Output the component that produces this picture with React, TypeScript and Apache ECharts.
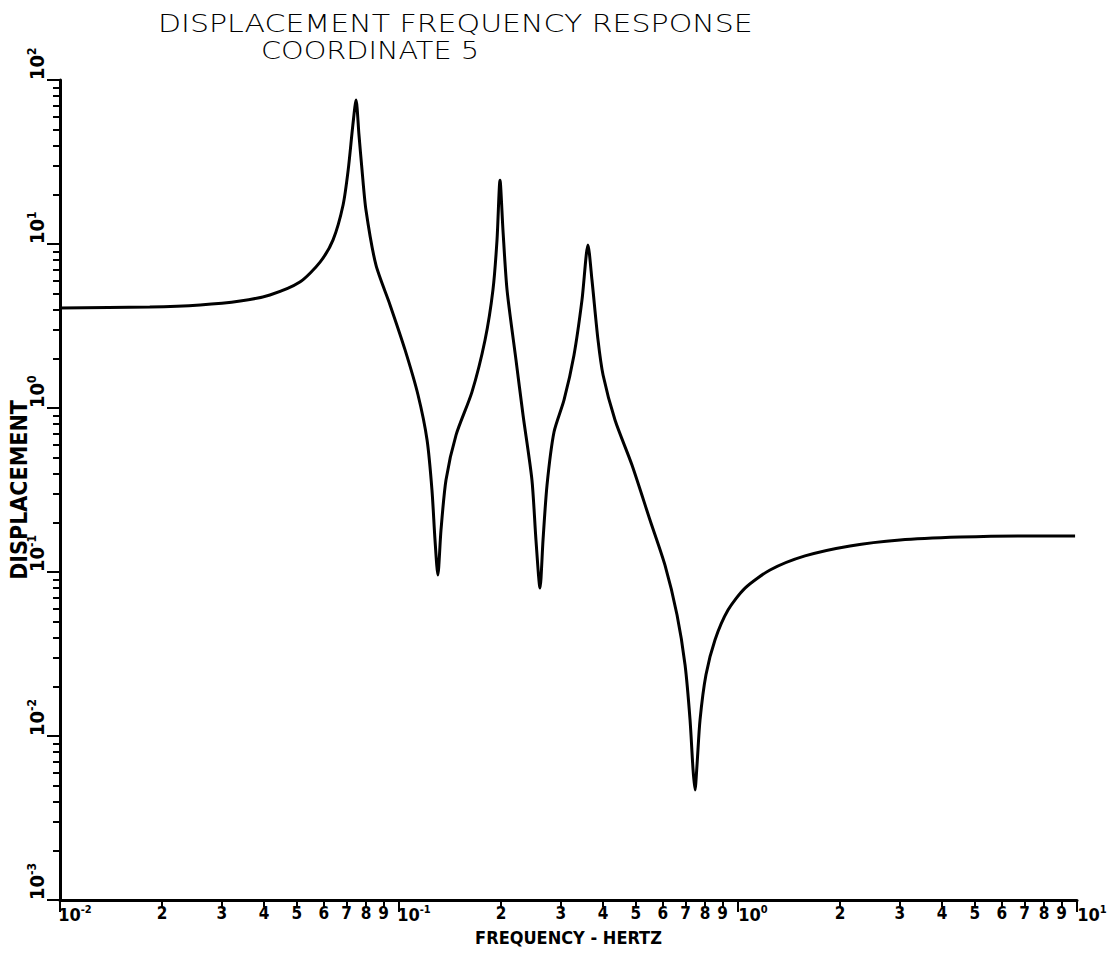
import { useEffect, useRef } from "react";
import * as echarts from "echarts";

const TITLE = "DISPLACEMENT FREQUENCY RESPONSE";
const SUBTITLE = "COORDINATE 5";
const X_NAME = "FREQUENCY - HERTZ";
const Y_NAME = "DISPLACEMENT";

const xMajorTicks = [0.01, 0.1, 1, 10];
const xMinorTicks = [
  0.02, 0.03, 0.04, 0.05, 0.06, 0.07, 0.08, 0.09,
  0.2, 0.3, 0.4, 0.5, 0.6, 0.7, 0.8, 0.9,
  2, 3, 4, 5, 6, 7, 8, 9,
];
const yMajorTicks = [0.001, 0.01, 0.1, 1, 10, 100];
const yMinorTicks = [
  0.002, 0.003, 0.004, 0.005, 0.006, 0.007, 0.008, 0.009,
  0.02, 0.03, 0.04, 0.05, 0.06, 0.07, 0.08, 0.09,
  0.2, 0.3, 0.4, 0.5, 0.6, 0.7, 0.8, 0.9,
  2, 3, 4, 5, 6, 7, 8, 9,
  20, 30, 40, 50, 60, 70, 80, 90,
];

// frequency (Hz) and displacement
const frequency = [
  0.01, 0.0184, 0.0259, 0.034, 0.0416, 0.051, 0.0585, 0.0639, 0.0684, 0.0708,
  0.0731, 0.0747, 0.0762, 0.0778, 0.0799, 0.0855, 0.0941, 0.1042, 0.1138, 0.121,
  0.1251, 0.1277, 0.1302, 0.133, 0.1376, 0.1473, 0.1641, 0.1794, 0.1893, 0.1946,
  0.1986, 0.2026, 0.2083, 0.2214, 0.2322, 0.2467, 0.2535, 0.2606, 0.266, 0.2733,
  0.2866, 0.3068, 0.3282, 0.3466, 0.3609, 0.3709, 0.3864, 0.3999, 0.4337, 0.4867,
  0.55, 0.609, 0.661, 0.698, 0.722, 0.737, 0.7468, 0.757, 0.7727, 0.8045,
  0.8552, 0.9344, 1.049, 1.243, 1.576, 2.14, 3.006, 4.52, 6.79, 9.87,
];
const displacement = [
  4.07, 4.13, 4.25, 4.49, 4.89, 5.86, 7.76, 10.6, 17.3, 28.2,
  53.2, 75.5, 46.2, 28.2, 16.1, 7.45, 4.25, 2.26, 1.2, 0.638,
  0.316, 0.157, 0.096, 0.18, 0.364, 0.684, 1.25, 2.6, 5.25, 10.6,
  24.5, 12.2, 5.25, 1.96, 0.906, 0.364, 0.157, 0.0798, 0.157, 0.339,
  0.714, 1.12, 2.1, 4.56, 9.86, 6.03, 2.6, 1.59, 0.845, 0.449,
  0.2075, 0.11, 0.0547, 0.0271, 0.01253, 0.00621, 0.00469, 0.00665, 0.01253, 0.0236,
  0.0385, 0.0586, 0.0798, 0.1028, 0.1253, 0.1442, 0.1567, 0.1633, 0.166, 0.166,
];

const LABEL_FONT = "'Liberation Sans Narrow', 'DejaVu Sans Condensed', 'Liberation Sans', sans-serif";
const TITLE_FONT = "'DejaVu Sans', sans-serif";

const exponentOf = (v: number) => Math.round(Math.log10(v));
const mantissaOf = (v: number) => {
  const e = Math.floor(Math.log10(v) + 1e-9);
  return String(Math.round(v / Math.pow(10, e)));
};

const xPowerRich = {
  sp: { width: 30 },
  b: { fontSize: 18, fontWeight: "bold", fontFamily: LABEL_FONT, color: "#000", lineHeight: 20 },
  e: { fontSize: 11, fontWeight: "bold", fontFamily: LABEL_FONT, color: "#000", lineHeight: 11, verticalAlign: "top" },
};
const yPowerRich = {
  b: { fontSize: 20, fontWeight: "bold", fontFamily: LABEL_FONT, color: "#000", lineHeight: 22 },
  e: { fontSize: 12, fontWeight: "bold", fontFamily: LABEL_FONT, color: "#000", lineHeight: 12, verticalAlign: "top" },
};

export default function App() {
  const ref = useRef<HTMLDivElement>(null);
  useEffect(() => {
    if (!ref.current) return;
    const chart = echarts.init(ref.current, null, { renderer: "svg" });
    const black = "#000";
    const option: any = {
      animation: false,
      backgroundColor: "#fff",
      graphic: [
        {
          type: "text",
          x: 158,
          y: 23,
          scaleX: 1.2,
          style: {
            text: TITLE,
            fontFamily: TITLE_FONT,
            fontSize: 25,
            fontWeight: 200,
            fill: black,
            align: "left",
            verticalAlign: "middle",
          },
        },
        {
          type: "text",
          x: 261,
          y: 50,
          scaleX: 1.15,
          style: {
            text: SUBTITLE,
            fontFamily: TITLE_FONT,
            fontSize: 25,
            fontWeight: 200,
            fill: black,
            align: "left",
            verticalAlign: "middle",
          },
        },
      ],
      grid: { left: 60, right: 33, top: 80, bottom: 60, containLabel: false, outerBoundsMode: "none" },
      xAxis: [
        {
          type: "log",
          logBase: 10,
          min: 0.01,
          max: 10,
          position: "bottom",
          axisLine: { onZero: false, lineStyle: { color: black, width: 3 } },
          axisTick: { customValues: xMinorTicks, length: 7, lineStyle: { color: black, width: 2 } },
          axisLabel: {
            customValues: xMinorTicks,
            formatter: (v: number) => mantissaOf(v),
            margin: 4,
            color: black,
            fontFamily: LABEL_FONT,
            fontWeight: "bold",
            fontSize: 17,
          },
          splitLine: { show: false },
          minorTick: { show: false },
          name: X_NAME,
          nameLocation: "middle",
          nameGap: 28,
          nameMoveOverlap: false,
          nameTextStyle: { fontFamily: LABEL_FONT, fontWeight: "bold", fontSize: 18, color: black },
        },
        {
          type: "log",
          logBase: 10,
          min: 0.01,
          max: 10,
          position: "bottom",
          axisLine: { show: false, onZero: false },
          axisTick: { customValues: xMajorTicks, length: 12, lineStyle: { color: black, width: 2 } },
          axisLabel: {
            customValues: xMajorTicks,
            formatter: (v: number) => `{sp|}{b|10}{e|${exponentOf(v)}}`,
            margin: 4,
            rich: xPowerRich,
          },
          splitLine: { show: false },
        },
      ],
      yAxis: [
        {
          type: "log",
          logBase: 10,
          min: 0.001,
          max: 100,
          position: "left",
          axisLine: { onZero: false, lineStyle: { color: black, width: 3 } },
          axisTick: { customValues: yMajorTicks, length: 13, lineStyle: { color: black, width: 2 } },
          axisLabel: {
            customValues: yMajorTicks,
            formatter: (v: number) => `{b|10}{e|${exponentOf(v)}}`,
            rotate: 90,
            align: "left",
            verticalAlign: "bottom",
            margin: 12,
            rich: yPowerRich,
          },
          splitLine: { show: false },
          name: Y_NAME,
          nameLocation: "middle",
          nameGap: 30,
          nameMoveOverlap: false,
          nameTextStyle: { fontFamily: LABEL_FONT, fontWeight: "bold", fontSize: 23, color: black },
        },
        {
          type: "log",
          logBase: 10,
          min: 0.001,
          max: 100,
          position: "left",
          axisLine: { show: false, onZero: false },
          axisTick: { customValues: yMinorTicks, length: 7, lineStyle: { color: black, width: 2 } },
          axisLabel: { show: false },
          splitLine: { show: false },
        },
      ],
      series: [
        {
          type: "line",
          xAxisIndex: 0,
          yAxisIndex: 0,
          data: frequency.map((f, i) => [f, displacement[i]]),
          symbol: "none",
          showSymbol: false,
          smooth: 0.25,
          lineStyle: { color: black, width: 3 },
        },
      ],
    };
    chart.setOption(option);
    return () => chart.dispose();
  }, []);
  return (
    <div
      ref={ref}
      style={{ position: "fixed", left: 0, top: 0, width: 1110, height: 960 }}
    />
  );
}
